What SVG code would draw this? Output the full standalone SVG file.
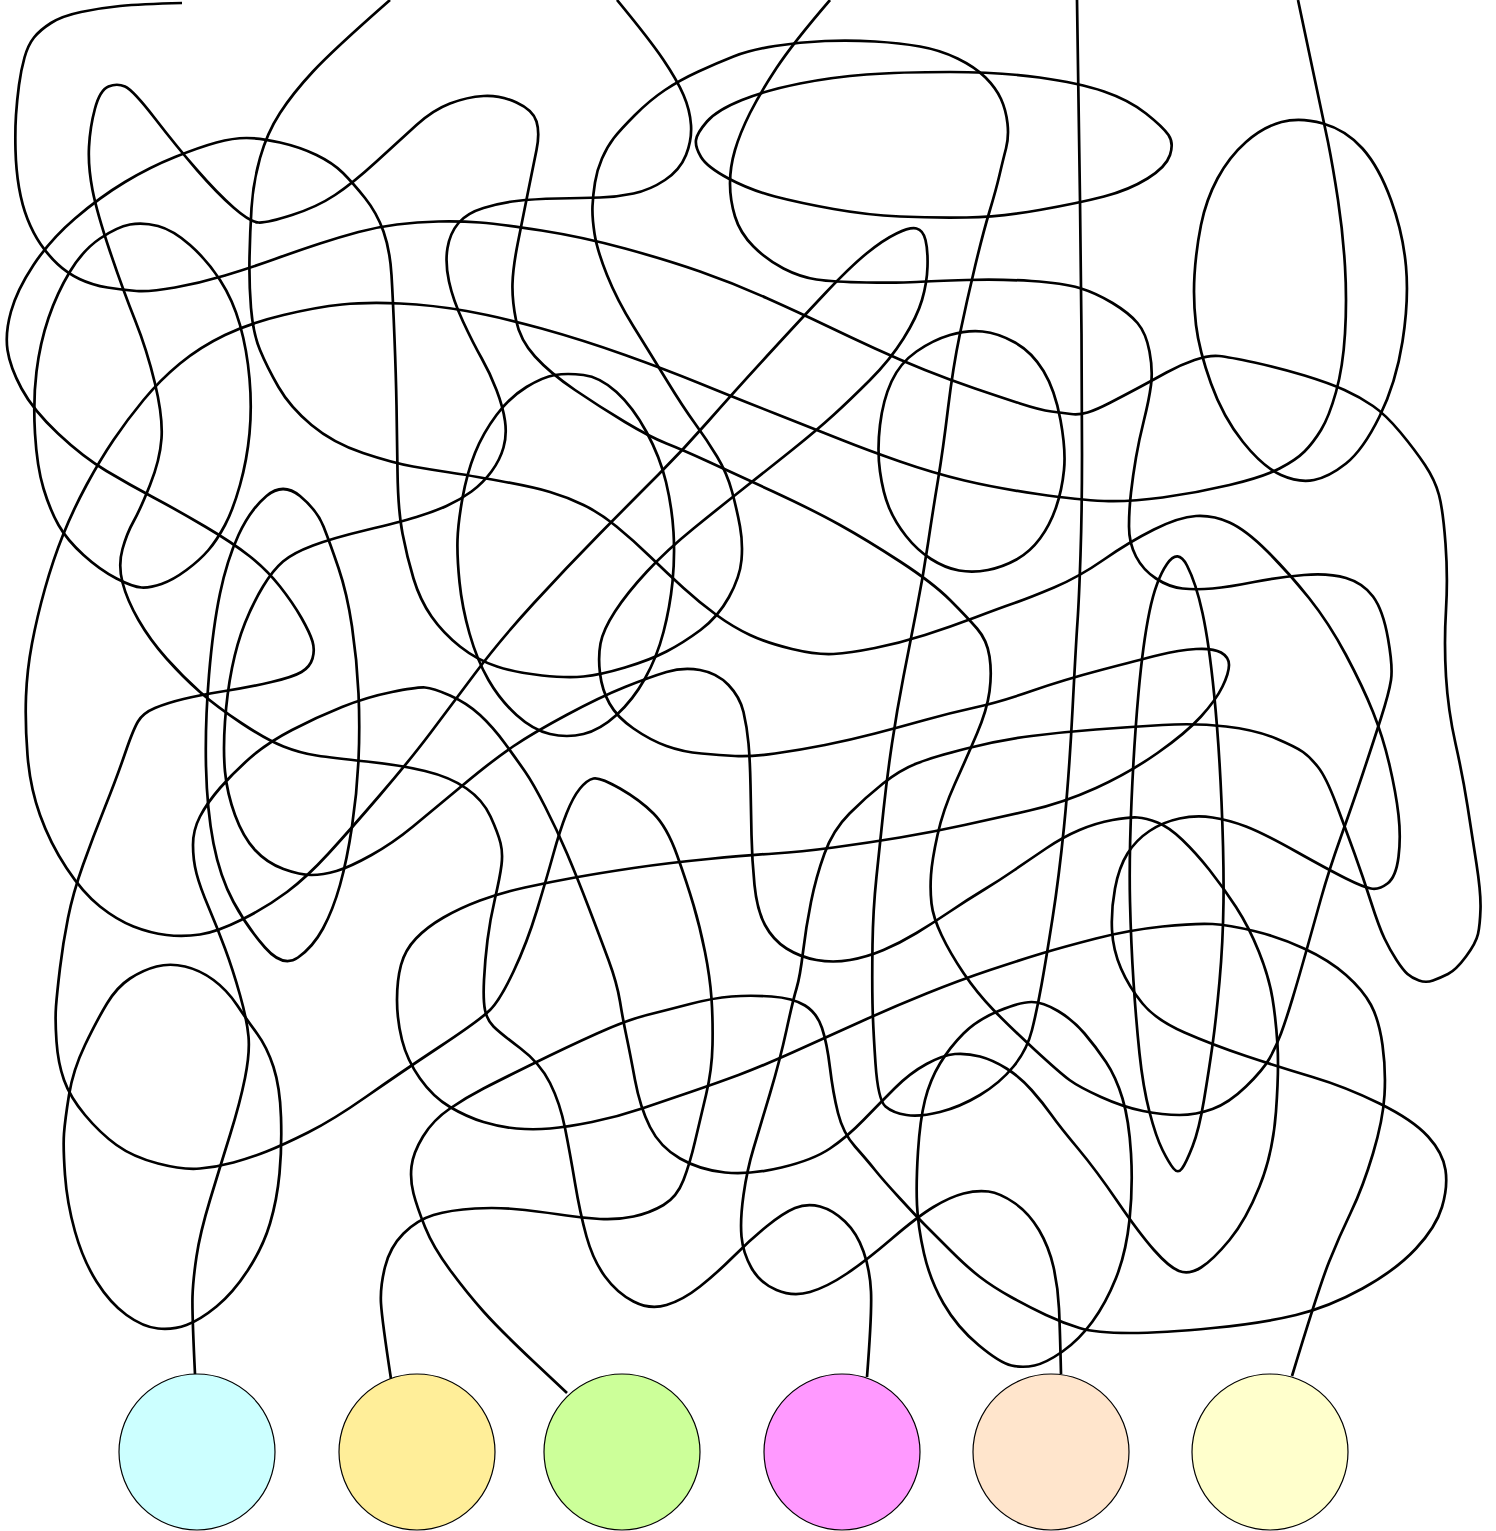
<svg xmlns="http://www.w3.org/2000/svg" width="1496" height="1531" viewBox="0 0 1496 1531">
<style>
.w{fill:none;stroke:#000;stroke-width:2.7;stroke-linejoin:round;stroke-linecap:butt}
.n{stroke:#000;stroke-width:1.2}
</style>
<rect width="1496" height="1531" fill="#fff"/>
<g id="connectors">
<path id="lineA" class="w" d="M182,3 Q140,4 120,6 Q100,8 81,12 Q62,16 51,23 Q40,30 34,37.5 Q28,45 24.5,57.5 Q21,70 19,85 Q17,100 16,115 Q15,130 15.5,150 Q16,170 19,187.5 Q22,205 27.5,219 Q33,233 40.5,244 Q48,255 57.5,264 Q67,273 79.5,279 Q92,285 107.5,287.5 Q123,290 136.5,291 Q150,292 175,287.5 Q200,283 225,275.5 Q250,268 275,259 Q300,250 320,243.5 Q340,237 358.5,232 Q377,227 397,224.5 Q417,222 438.5,221.5 Q460,221 480,222.5 Q500,224 541.5,230.5 Q583,237 625,248.5 Q667,260 700,271.5 Q733,283 766.5,298 Q800,313 825,325 Q850,337 875,348.5 Q900,360 925,370 Q950,380 975,388.5 Q1000,397 1020,403.5 Q1040,410 1051.5,411.5 Q1063,413 1071,414 Q1079,415 1087.5,412.5 Q1096,410 1110.5,402.5 Q1125,395 1139,387.5 Q1153,380 1166.5,372.5 Q1180,365 1194.5,360 Q1209,355 1219,356 Q1229,357 1254.5,362.5 Q1280,368 1304.5,375.5 Q1329,383 1344.5,390 Q1360,397 1373,406 Q1386,415 1400.5,432.5 Q1415,450 1425,465 Q1435,480 1439,495 Q1443,510 1445.5,543.5 Q1448,577 1446,610 Q1444,643 1446,676.5 Q1448,710 1455.5,743.5 Q1463,777 1467.5,806 Q1472,835 1476.5,864 Q1481,893 1480.5,909 Q1480,925 1478,934 Q1476,943 1466,956.5 Q1456,970 1448,974 Q1440,978 1433,980.5 Q1426,983 1419,980.5 Q1412,978 1407.5,974 Q1403,970 1396.5,960 Q1390,950 1384.5,938.5 Q1379,927 1371,902 Q1363,877 1354.5,853.5 Q1346,830 1336,803.5 Q1326,777 1318,767 Q1310,757 1303,752 Q1296,747 1276,738.5 Q1256,730 1226,726.5 Q1196,723 1162.5,725 Q1129,727 1096,729.5 Q1063,732 1031.5,736 Q1000,740 966.5,748.5 Q933,757 916.5,763.5 Q900,770 883,783.5 Q866,797 849.5,813.5 Q833,830 824.5,853.5 Q816,877 811,902 Q806,927 803,952 Q800,977 796.5,988.5 Q793,1000 786.5,1030 Q780,1060 770,1093.5 Q760,1127 753.5,1148.5 Q747,1170 743.5,1195 Q740,1220 741.5,1236.5 Q743,1253 751.5,1268 Q760,1283 776.5,1290 Q793,1297 810,1292 Q827,1287 847,1273.5 Q867,1260 892,1238.5 Q917,1217 933.5,1207 Q950,1197 963.5,1193.5 Q977,1190 988.5,1191.5 Q1000,1193 1014.5,1203 Q1029,1213 1039,1230 Q1049,1247 1053.5,1267 Q1058,1287 1059,1308.5 Q1060,1330 1061,1374"/>
<path id="lineB" class="w" d="M390,0 Q333,50 313,71.5 Q293,93 280,113 Q267,133 260,158 Q253,183 251.5,208 Q250,233 249.5,258 Q249,283 251,308 Q253,333 260,350 Q267,367 278.5,387 Q290,407 311.5,425 Q333,443 363,453 Q393,463 413,466.5 Q433,470 450,472.5 Q467,475 500,481 Q533,487 550,492 Q567,497 583.5,505 Q600,513 616.5,526.5 Q633,540 650,556.5 Q667,573 683.5,588 Q700,603 716.5,615 Q733,627 750,635 Q767,643 792,649 Q817,655 833.5,654 Q850,653 875,648 Q900,643 925,635 Q950,627 975,617.5 Q1000,608 1014.5,603 Q1029,598 1054,587.5 Q1079,577 1104,559.5 Q1129,542 1154,529.5 Q1179,517 1196,516 Q1213,515 1229.5,522.5 Q1246,530 1267.5,551.5 Q1289,573 1309,598 Q1329,623 1346,655 Q1363,687 1373,712 Q1383,737 1389.5,765 Q1396,793 1398.5,815 Q1401,837 1398.5,857 Q1396,877 1387.5,883.5 Q1379,890 1371,888.5 Q1363,887 1346,878.5 Q1329,870 1296,851.5 Q1263,833 1246,826.5 Q1229,820 1212.5,817.5 Q1196,815 1179.5,818.5 Q1163,822 1149.5,831 Q1136,840 1127.5,853.5 Q1119,867 1115,888.5 Q1111,910 1112,930 Q1113,950 1121,968.5 Q1129,987 1142.5,1003.5 Q1156,1020 1184.5,1032.5 Q1213,1045 1246,1056 Q1279,1067 1312.5,1077 Q1346,1087 1379.5,1103.5 Q1413,1120 1428,1136.5 Q1443,1153 1445.5,1170 Q1448,1187 1442,1207 Q1436,1227 1416,1248.5 Q1396,1270 1362.5,1288.5 Q1329,1307 1296,1315 Q1263,1323 1213,1328 Q1163,1333 1129.5,1333 Q1096,1333 1079.5,1328 Q1063,1323 1046,1315 Q1029,1307 1011,1297 Q993,1287 980,1277 Q967,1267 950,1250 Q933,1233 925,1225 Q917,1217 900,1198.5 Q883,1180 875,1170 Q867,1160 855,1146.5 Q843,1133 838,1113 Q833,1093 830,1068 Q827,1043 822,1028 Q817,1013 805,1005.5 Q793,998 771.5,996.5 Q750,995 731.5,996.5 Q713,998 690,1004 Q667,1010 647,1015 Q627,1020 597,1033.5 Q567,1047 533.5,1063.5 Q500,1080 483.5,1088.5 Q467,1097 450,1108.5 Q433,1120 423,1136.5 Q413,1153 411.5,1166.5 Q410,1180 413.5,1193.5 Q417,1207 425,1227 Q433,1247 450,1270 Q467,1293 483.5,1311.5 Q500,1330 533.5,1361.5 L567,1393"/>
<path id="lineC" class="w" d="M617,0 Q650,40 663.5,60 Q677,80 683.5,95 Q690,110 691,125 Q692,140 686,155 Q680,170 665,180 Q650,190 633.5,193.5 Q617,197 600,197.5 Q583,198 558,198.5 Q533,199 516.5,201 Q500,203 483.5,208 Q467,213 458.5,223 Q450,233 447.5,248 Q445,263 449,281.5 Q453,300 463,321.5 Q473,343 481.5,358 Q490,373 496.5,390 Q503,407 505,421 Q507,435 503.5,447.5 Q500,460 491.5,471.5 Q483,483 471.5,491.5 Q460,500 446.5,506 Q433,512 416.5,517 Q400,522 366.5,530 Q333,538 313,545.5 Q293,553 283,561.5 Q273,570 263,586.5 Q253,603 245,623 Q237,643 232,668 Q227,693 225,721.5 Q223,750 225,771.5 Q227,793 235,815 Q243,837 255,850 Q267,863 283.5,869 Q300,875 311.5,875 Q323,875 336.5,871 Q350,867 371.5,855 Q393,843 413,826.5 Q433,810 463,785 Q493,760 513,746.5 Q533,733 566.5,715 Q600,697 625,687 Q650,677 666.5,672 Q683,667 700,670 Q717,673 728.5,685 Q740,697 743.5,712 Q747,727 748.5,743.5 Q750,760 750.5,785 Q751,810 751.5,835 Q752,860 754.5,885 Q757,910 765,925 Q773,940 786.5,948.5 Q800,957 816.5,960 Q833,963 850,960 Q867,957 883.5,950 Q900,943 916.5,933 Q933,923 950,911.5 Q967,900 983.5,890 Q1000,880 1014.5,870 Q1029,860 1046,848.5 Q1063,837 1079.5,830 Q1096,823 1112.5,820 Q1129,817 1137.5,817.5 Q1146,818 1157.5,822.5 Q1169,827 1182.5,840 Q1196,853 1209.5,870 Q1223,887 1236,907 Q1249,927 1259,952 Q1269,977 1272.5,998.5 Q1276,1020 1277.5,1045 Q1279,1070 1276,1111.5 Q1273,1153 1259.5,1186.5 Q1246,1220 1229.5,1240 Q1213,1260 1201,1267.5 Q1189,1275 1179,1271 Q1169,1267 1154,1250 Q1139,1233 1117.5,1201.5 Q1096,1170 1078,1148.5 Q1060,1127 1051.5,1115 Q1043,1103 1031.5,1090 Q1020,1077 1006.5,1068.5 Q993,1060 980,1056.5 Q967,1053 955,1054 Q943,1055 926.5,1064 Q910,1073 895,1088 Q880,1103 863.5,1120 Q847,1137 830,1148.5 Q813,1160 781.5,1167.5 Q750,1175 725,1172.5 Q700,1170 680,1158.5 Q660,1147 650,1127 Q640,1107 635,1080 Q630,1053 626.5,1036.5 Q623,1020 620,1001.5 Q617,983 608.5,960 Q600,937 588.5,907 Q577,877 567,853.5 Q557,830 545,806.5 Q533,783 525,771.5 Q517,760 505,743.5 Q493,727 480,715 Q467,703 450,695.5 Q433,688 425,687.5 Q417,687 392,692 Q367,697 342,707 Q317,717 292,730 Q267,743 250,758 Q233,773 220,788 Q207,803 200,816.5 Q193,830 193,845 Q193,860 196.5,873.5 Q200,887 208.5,907 Q217,927 225,948.5 Q233,970 240,995 Q247,1020 248.5,1036.5 Q250,1053 245,1078 Q240,1103 230,1135 Q220,1167 210,1200 Q200,1233 196.5,1256.5 Q193,1280 192.5,1296.5 Q192,1313 195,1374"/>
<path id="lineD" class="w" d="M830,0 Q793,43 776.5,68 Q760,93 750,113 Q740,133 735,150 Q730,167 730,183.5 Q730,200 735,216.5 Q740,233 753.5,246.5 Q767,260 783.5,268.5 Q800,277 816.5,279.5 Q833,282 866.5,282.5 Q900,283 916.5,282 Q933,281 966.5,280 Q1000,279 1031.5,281 Q1063,283 1079.5,288 Q1096,293 1112.5,303 Q1129,313 1137.5,323 Q1146,333 1149.5,351.5 Q1153,370 1151,385 Q1149,400 1144,420 Q1139,440 1136,457.5 Q1133,475 1131,492.5 Q1129,510 1129,526.5 Q1129,543 1136,556.5 Q1143,570 1156,578.5 Q1169,587 1182.5,588.5 Q1196,590 1212.5,588.5 Q1229,587 1254,582 Q1279,577 1304,575 Q1329,573 1346,578 Q1363,583 1373,596.5 Q1383,610 1388,638.5 Q1393,667 1391,680 Q1389,693 1381,718 Q1373,743 1363,773 Q1353,803 1341,836.5 Q1329,870 1321,898.5 Q1313,927 1306,952 Q1299,977 1292.5,998.5 Q1286,1020 1281,1033.5 Q1276,1047 1269.5,1058.5 Q1263,1070 1246,1086.5 Q1229,1103 1212.5,1109 Q1196,1115 1179.5,1115 Q1163,1115 1143,1111 Q1123,1107 1101,1097 Q1079,1087 1069.5,1080 Q1060,1073 1035,1050 Q1010,1027 993.5,1010 Q977,993 963.5,973 Q950,953 941.5,935 Q933,917 931.5,903.5 Q930,890 931,875 Q932,860 937.5,835 Q943,810 955,783.5 Q967,757 977,733.5 Q987,710 989.5,691.5 Q992,673 989.5,656.5 Q987,640 977,628.5 Q967,617 950,600 Q933,583 900,561.5 Q867,540 840,525 Q813,510 773,491.5 Q733,473 708,461.5 Q683,450 666.5,443.5 Q650,437 625,422 Q600,407 575,390 Q550,373 535,356.5 Q520,340 516,320 Q512,300 512.5,283.5 Q513,267 518,242 Q523,217 528,192 Q533,167 536.5,150 Q540,133 536.5,121.5 Q533,110 516.5,102.5 Q500,95 483.5,96 Q467,97 450,103.5 Q433,110 416.5,125 Q400,140 376.5,161.5 Q353,183 335,195 Q317,207 292,215 Q267,223 258.5,222.5 Q250,222 233.5,207.5 Q217,193 197,170 Q177,147 155,118.5 Q133,90 125,86.5 Q117,83 108.5,86.5 Q100,90 95,108.5 Q90,127 89,147 Q88,167 92.5,190 Q97,213 110,251.5 Q123,290 135,320 Q147,350 155,383.5 Q163,417 161.5,438.5 Q160,460 150,485 Q140,510 133.5,521.5 Q127,533 122.5,549 Q118,565 122.5,582.5 Q127,600 138.5,620 Q150,640 166.5,658.5 Q183,677 200,692 Q217,707 242,723.5 Q267,740 283.5,746.5 Q300,753 316.5,755.5 Q333,758 366.5,761.5 Q400,765 425,771 Q450,777 466.5,788.5 Q483,800 490.5,816.5 Q498,833 500.5,843 Q503,853 501.5,865 Q500,877 495,898.5 Q490,920 487.5,940 Q485,960 484,980 Q483,1000 485,1010 Q487,1020 493.5,1026.5 Q500,1033 520,1048 Q540,1063 550,1083 Q560,1103 565,1128 Q570,1153 575,1183 Q580,1213 586.5,1236.5 Q593,1260 605,1276.5 Q617,1293 633.5,1301.5 Q650,1310 666.5,1305 Q683,1300 700,1286.5 Q717,1273 733.5,1256.5 Q750,1240 766.5,1226.5 Q783,1213 795,1208 Q807,1203 820,1206.5 Q833,1210 845,1221.5 Q857,1233 863.5,1251.5 Q870,1270 871,1291.5 Q872,1313 867,1377"/>
<path id="lineE" class="w" d="M1077,0 Q1079,133 1080,200 Q1081,267 1081.5,333.5 Q1082,400 1082,455 Q1082,510 1080.5,555 Q1079,600 1077.5,621.5 Q1076,643 1072.5,710 Q1069,777 1064,827 Q1059,877 1052.5,918.5 Q1046,960 1041.5,985 Q1037,1010 1032,1030 Q1027,1050 1013.5,1066.5 Q1000,1083 980,1095 Q960,1107 940,1112 Q920,1117 906.5,1115 Q893,1113 885.5,1106.5 Q878,1100 875.5,1063.5 Q873,1027 872.5,1003.5 Q872,980 872.5,945 Q873,910 876.5,876.5 Q880,843 883.5,810 Q887,777 892,743.5 Q897,710 903.5,676.5 Q910,643 916.5,610 Q923,577 928,543.5 Q933,510 938,480 Q943,450 948,408.5 Q953,367 960,333.5 Q967,300 975,266.5 Q983,233 989.5,211.5 Q996,190 999.5,175 Q1003,160 1006,148.5 Q1009,137 1007.5,123.5 Q1006,110 1001,99 Q996,88 985.5,77.5 Q975,67 957.5,58.5 Q940,50 920,46.5 Q900,43 875,41.5 Q850,40 825,41 Q800,42 775,46 Q750,50 733.5,56.5 Q717,63 698.5,71.5 Q680,80 665,90 Q650,100 635,115 Q620,130 613.5,138.5 Q607,147 602,158.5 Q597,170 595,182.5 Q593,195 592.5,206 Q592,217 594.5,233.5 Q597,250 607,275 Q617,300 633.5,326.5 Q650,353 666.5,380 Q683,407 695,423.5 Q707,440 717,456.5 Q727,473 732,491.5 Q737,510 740,526.5 Q743,543 741.5,560 Q740,577 729,597 Q718,617 700.5,630 Q683,643 666.5,651.5 Q650,660 625,667.5 Q600,675 583.5,676.5 Q567,678 542,675.5 Q517,673 497,666.5 Q477,660 460,646.5 Q443,633 431.5,616.5 Q420,600 413.5,578.5 Q407,557 402.5,533.5 Q398,510 397.5,471.5 Q397,433 396.5,405 Q396,377 394.5,338.5 Q393,300 391.5,275 Q390,250 383.5,231.5 Q377,213 365,198 Q353,183 343,173 Q333,163 316.5,155 Q300,147 280,142.5 Q260,138 246.5,138 Q233,138 216.5,142.5 Q200,147 175,157 Q150,167 125,182 Q100,197 75,218.5 Q50,240 33.5,265 Q17,290 11,311.5 Q5,333 7.5,350 Q10,367 21.5,388.5 Q33,410 58,433.5 Q83,457 106.5,471 Q130,485 153.5,497.5 Q177,510 205,526.5 Q233,543 250,556.5 Q267,570 280,586.5 Q293,603 301.5,618 Q310,633 312.5,641.5 Q315,650 312.5,658.5 Q310,667 301.5,672 Q293,677 271.5,682 Q250,687 225,691 Q200,695 183.5,699 Q167,703 155,708 Q143,713 138,721.5 Q133,730 125,753.5 Q117,777 105,807 Q93,837 83,865 Q73,893 68,918 Q63,943 60,968 Q57,993 56,1006.5 Q55,1020 56.5,1041.5 Q58,1063 64,1080 Q70,1097 85,1115 Q100,1133 116.5,1145 Q133,1157 158,1163.5 Q183,1170 200,1168.5 Q217,1167 233.5,1162.5 Q250,1158 266.5,1151.5 Q283,1145 308,1132.5 Q333,1120 366.5,1096.5 Q400,1073 440,1046.5 Q480,1020 490,1010 Q500,1000 513.5,971.5 Q527,943 537,910 Q547,877 553.5,853.5 Q560,830 566.5,813.5 Q573,797 580,788.5 Q587,780 593.5,778.5 Q600,777 620,788.5 Q640,800 653.5,813.5 Q667,827 677,855 Q687,883 693.5,905 Q700,927 705,952 Q710,977 711.5,998.5 Q713,1020 712.5,1045 Q712,1070 706,1095 Q700,1120 695,1141.5 Q690,1163 683.5,1180 Q677,1197 663.5,1205 Q650,1213 633.5,1216.5 Q617,1220 600,1219 Q583,1218 566.5,1215.5 Q550,1213 525,1210 Q500,1207 475,1208.5 Q450,1210 433.5,1215 Q417,1220 403.5,1233.5 Q390,1247 385,1267 Q380,1287 381,1303.5 Q382,1320 391,1379"/>
<path id="lineF" class="w" d="M1298,0 Q1323,117 1328,142 Q1333,167 1338,200 Q1343,233 1345,266.5 Q1347,300 1345,333.5 Q1343,367 1336,392 Q1329,417 1321,430 Q1313,443 1304.5,451.5 Q1296,460 1279.5,468.5 Q1263,477 1229.5,485 Q1196,493 1162.5,497.5 Q1129,502 1104,501 Q1079,500 1037.5,494 Q996,488 964.5,480.5 Q933,473 900,461.5 Q867,450 842,440 Q817,430 775,413.5 Q733,397 700,383.5 Q667,370 625,355 Q583,340 541.5,328.5 Q500,317 466.5,311 Q433,305 400,303.5 Q367,302 342,304.5 Q317,307 283.5,315 Q250,323 225,335 Q200,347 180,363.5 Q160,380 143.5,400 Q127,420 113.5,440 Q100,460 86.5,485 Q73,510 63,535 Q53,560 45,588.5 Q37,617 32,643.5 Q27,670 26,696.5 Q25,723 27.5,755 Q30,787 40,815 Q50,843 66.5,868 Q83,893 100,906.5 Q117,920 133.5,926.5 Q150,933 166.5,935 Q183,937 200,934.5 Q217,932 242,919.5 Q267,907 287,892 Q307,877 328.5,853.5 Q350,830 380,795 Q410,760 430,733.5 Q450,707 475,673.5 Q500,640 533.5,603.5 Q567,567 600,533.5 Q633,500 658,475 Q683,450 708,421.5 Q733,393 766.5,356.5 Q800,320 825,293.5 Q850,267 866.5,253.5 Q883,240 896.5,233.5 Q910,227 916.5,228.5 Q923,230 925.5,240 Q928,250 927.5,266.5 Q927,283 922,300 Q917,317 903.5,338.5 Q890,360 870,380 Q850,400 833.5,415 Q817,430 792,450 Q767,470 743.5,488.5 Q720,507 693.5,528.5 Q667,550 647,571.5 Q627,593 615,611.5 Q603,630 600.5,643.5 Q598,657 600,673.5 Q602,690 609.5,703.5 Q617,717 633.5,728.5 Q650,740 666.5,746 Q683,752 701.5,753.5 Q720,755 735,756 Q750,757 775,753.5 Q800,750 825,745 Q850,740 875,733.5 Q900,727 925,720 Q950,713 975,707.5 Q1000,702 1031.5,691 Q1063,680 1101,670 Q1139,660 1159,655 Q1179,650 1196,649 Q1213,648 1221,652.5 Q1229,657 1229,665 Q1229,673 1222.5,686.5 Q1216,700 1201,716.5 Q1186,733 1157.5,753 Q1129,773 1096,788 Q1063,803 1029.5,810.5 Q996,818 964.5,825 Q933,832 900,837.5 Q867,843 833.5,847.5 Q800,852 775,853.5 Q750,855 708.5,859 Q667,863 633.5,868 Q600,873 575,877.5 Q550,882 525,887.5 Q500,893 480,900.5 Q460,908 443.5,917.5 Q427,927 416,938.5 Q405,950 401,965 Q397,980 397,1000 Q397,1020 402,1040 Q407,1060 420,1078.5 Q433,1097 450,1107 Q467,1117 483.5,1122 Q500,1127 516.5,1128.5 Q533,1130 550,1128.5 Q567,1127 592,1122 Q617,1117 642,1108.5 Q667,1100 692,1091.5 Q717,1083 738.5,1075 Q760,1067 793.5,1052 Q827,1037 860,1022 Q893,1007 926.5,993.5 Q960,980 990,970 Q1020,960 1041.5,953.5 Q1063,947 1096,938.5 Q1129,930 1162.5,926.5 Q1196,923 1212.5,924 Q1229,925 1254,931 Q1279,937 1304,948.5 Q1329,960 1346,975 Q1363,990 1371,1005 Q1379,1020 1382.5,1045 Q1386,1070 1384.5,1095 Q1383,1120 1373,1153.5 Q1363,1187 1351,1212 Q1339,1237 1329,1262 Q1319,1287 1292,1376"/>
<path class="w" d="M1039.5,77.5 Q1000,72 950,72 Q900,72 866.5,74.5 Q833,77 800,83.5 Q767,90 742,100 Q717,110 707,121.5 Q697,133 696,140 Q695,147 701,157 Q707,167 728.5,178.5 Q750,190 775,196.5 Q800,203 833.5,209 Q867,215 900,216.5 Q933,218 966.5,217.5 Q1000,217 1039.5,210 Q1079,203 1104,196.5 Q1129,190 1147.5,178.5 Q1166,167 1170,155 Q1174,143 1168.5,135 Q1163,127 1146,113.5 Q1129,100 1104,91.5 Q1079,83 1039.5,77.5 Z"/>
<path class="w" d="M1323,123.5 Q1300,117 1281.5,122 Q1263,127 1246,142 Q1229,157 1217.5,178.5 Q1206,200 1201,225 Q1196,250 1194.5,275 Q1193,300 1196,325 Q1199,350 1211,383.5 Q1223,417 1243,442 Q1263,467 1281,475 Q1299,483 1314,480 Q1329,477 1346,463.5 Q1363,450 1379.5,416.5 Q1396,383 1402.5,341.5 Q1409,300 1406,266.5 Q1403,233 1391,200 Q1379,167 1362.5,148.5 Q1346,130 1323,123.5 Z"/>
<path class="w" d="M982.5,331.5 Q967,330 950,335 Q933,340 916.5,351.5 Q900,363 891.5,381.5 Q883,400 880,425 Q877,450 880,471.5 Q883,493 889,507.5 Q895,522 906,536 Q917,550 931,559 Q945,568 959,570.5 Q973,573 988,570 Q1003,567 1016.5,559.5 Q1030,552 1040,538.5 Q1050,525 1056,507.5 Q1062,490 1064,470 Q1066,450 1060.5,420 Q1055,390 1043.5,371 Q1032,352 1015,342.5 Q998,333 982.5,331.5 Z"/>
<path class="w" d="M158,226 Q143,222 130,224.5 Q117,227 100,238.5 Q83,250 70,271.5 Q57,293 48.5,318 Q40,343 36.5,371.5 Q33,400 35,433.5 Q37,467 43.5,488.5 Q50,510 58.5,525 Q67,540 83.5,555 Q100,570 116.5,578.5 Q133,587 141.5,587.5 Q150,588 161.5,584 Q173,580 186.5,570 Q200,560 208.5,550 Q217,540 225,525 Q233,510 240,485 Q247,460 249.5,433.5 Q252,407 249.5,378.5 Q247,350 240,325 Q233,300 220,280 Q207,260 190,245 Q173,230 158,226 Z"/>
<path class="w" d="M300,496 Q283,482 266.5,496 Q250,510 238.5,535 Q227,560 220,593.5 Q213,627 209,675 Q205,723 206,766.5 Q207,810 213.5,843.5 Q220,877 233.5,902 Q247,927 265,947.5 Q283,968 298,957.5 Q313,947 323,928.5 Q333,910 340,885 Q347,860 352,826.5 Q357,793 358.5,760 Q360,727 358.5,693.5 Q357,660 352,626.5 Q347,593 338.5,568 Q330,543 323.5,526.5 Q317,510 300,496 Z"/>
<path class="w" d="M583.5,375 Q567,373 555,375 Q543,377 526.5,387 Q510,397 496.5,415 Q483,433 475,453 Q467,473 462.5,498 Q458,523 457.5,540 Q457,557 459.5,582 Q462,607 469.5,633.5 Q477,660 488.5,680 Q500,700 516.5,715 Q533,730 550,734 Q567,738 583.5,734 Q600,730 616.5,715 Q633,700 645,678.5 Q657,657 663.5,632 Q670,607 672.5,582 Q675,557 673.5,532 Q672,507 666,482 Q660,457 646.5,432 Q633,407 616.5,392 Q600,377 583.5,375 Z"/>
<path class="w" d="M185,966.5 Q170,963 156.5,966.5 Q143,970 130,978.5 Q117,987 107,1003.5 Q97,1020 85,1045 Q73,1070 69,1095 Q65,1120 64,1133.5 Q63,1147 65,1175 Q67,1203 75,1231.5 Q83,1260 96.5,1281.5 Q110,1303 126.5,1315 Q143,1327 158,1328.5 Q173,1330 186.5,1325 Q200,1320 216.5,1306.5 Q233,1293 248,1270 Q263,1247 270,1223.5 Q277,1200 279.5,1173.5 Q282,1147 281,1117 Q280,1087 273.5,1067 Q267,1047 257,1033.5 Q247,1020 237,1005 Q227,990 213.5,980 Q200,970 185,966.5 Z"/>
<path class="w" d="M1187,565.5 Q1178,548 1167,564 Q1156,580 1149.5,611.5 Q1143,643 1138.5,693 Q1134,743 1131.5,801.5 Q1129,860 1130,901.5 Q1131,943 1133.5,981.5 Q1136,1020 1139.5,1053.5 Q1143,1087 1149.5,1112 Q1156,1137 1162.5,1150 Q1169,1163 1173.5,1168.5 Q1178,1174 1182,1168.5 Q1186,1163 1192.5,1146.5 Q1199,1130 1204,1100 Q1209,1070 1212.5,1045 Q1216,1020 1219.5,981.5 Q1223,943 1223.5,901.5 Q1224,860 1221.5,801.5 Q1219,743 1214,693 Q1209,643 1202.5,613 Q1196,583 1187,565.5 Z"/>
<path class="w" d="M1031.5,1002 Q1020,1002 998.5,1011 Q977,1020 963.5,1033.5 Q950,1047 940,1063.5 Q930,1080 925,1100 Q920,1120 918,1151.5 Q916,1183 917,1205 Q918,1227 924,1253.5 Q930,1280 943.5,1303.5 Q957,1327 978.5,1345 Q1000,1363 1011.5,1365.5 Q1023,1368 1034.5,1365.5 Q1046,1363 1062.5,1351.5 Q1079,1340 1092.5,1321.5 Q1106,1303 1116,1278 Q1126,1253 1129.5,1220 Q1133,1187 1131,1153.5 Q1129,1120 1122.5,1098.5 Q1116,1077 1106,1062 Q1096,1047 1084.5,1033.5 Q1073,1020 1058,1011 Q1043,1002 1031.5,1002 Z"/>
</g>
<g id="node-cyan"><circle class="n" cx="197" cy="1452" r="78" fill="#CCFFFF"/></g>
<g id="node-yellow"><circle class="n" cx="417" cy="1452" r="78" fill="#FFEE99"/></g>
<g id="node-green"><circle class="n" cx="622" cy="1452" r="78" fill="#CCFF99"/></g>
<g id="node-magenta"><circle class="n" cx="842" cy="1452" r="78" fill="#FF99FF"/></g>
<g id="node-peach"><circle class="n" cx="1051" cy="1452" r="78" fill="#FFE5CC"/></g>
<g id="node-lightyellow"><circle class="n" cx="1270" cy="1452" r="78" fill="#FFFFCC"/></g>
</svg>
